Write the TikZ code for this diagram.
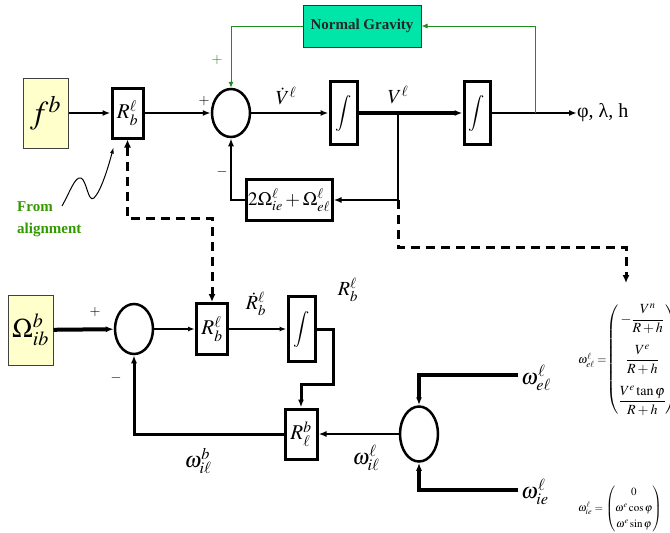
\documentclass[tikz,border=0pt]{standalone}
\usepackage{amsmath}
\usepackage{mathptmx}
\usepackage{fontspec}
\setmainfont{Liberation Serif}
\usetikzlibrary{arrows.meta,positioning,shapes.geometric,calc}
\definecolor{ink}{HTML}{000000}
\definecolor{boxyel}{HTML}{FFFFCC}
\definecolor{gravgreen}{HTML}{00E6A8}
\definecolor{wiregreen}{HTML}{1E8C1E}
\definecolor{textgreen}{HTML}{339900}
\tikzset{
  srcbox/.style={draw=ink!75,fill=boxyel,line width=1pt,inner sep=0pt,
                 minimum width=45pt,minimum height=70pt},
  blkbox/.style={draw=ink,fill=white,line width=3pt,inner sep=1pt},
  rbox/.style={blkbox,minimum width=31pt,minimum height=50pt,
               font=\fontsize{21}{24}\selectfont},
  intbox/.style={blkbox,minimum width=27pt,minimum height=63pt,
                 font=\fontsize{18}{20}\selectfont},
  sumnode/.style={draw=ink,ellipse,line width=2.5pt,minimum width=38pt,
                  minimum height=48pt,inner sep=0pt},
  gravbox/.style={draw=ink!80,fill=gravgreen,line width=1pt,minimum width=118pt,
                  minimum height=42pt,font=\fontsize{15}{17}\selectfont\bfseries,
                  text=ink!85},
  lbl/.style={inner sep=0pt,font=\fontsize{20}{22}\selectfont},
  wlbl/.style={inner sep=0pt,font=\fontsize{22}{24}\selectfont},
  sgn/.style={inner sep=0pt,font=\fontsize{14}{16}\selectfont},
  arr/.style={-{Latex[length=8pt,width=6pt]},line width=2.5pt},
  thinarr/.style={-{Latex[length=7pt,width=5pt]},line width=1.5pt},
  greenarr/.style={-{Latex[length=6pt,width=5pt]},line width=1pt,draw=wiregreen},
  dashline/.style={line width=3pt,dash pattern=on 9pt off 6pt},
  dasharr/.style={dashline,{Latex[length=8pt,width=7pt]}-{Latex[length=8pt,width=7pt]}},
  dashtip/.style={dashline,-{Latex[length=8pt,width=7pt]}}
}
\begin{document}
\begin{tikzpicture}[x=1pt,y=-1pt]
\useasboundingbox (0,0) rectangle (670,533);
% velocity loop
\node[srcbox] (fb) at (45.5,113) {\fontsize{32}{36}\selectfont$f^b$};
\node[rbox] (Rtop) at (127.5,113) {$R_b^\ell$};
\node[sumnode] (sumv) at (231,113) {};
\node[intbox] (intv) at (343.5,113) {$\displaystyle\int$};
\node[intbox,minimum width=26pt] (intp) at (477,113) {$\displaystyle\int$};
\node[anchor=west,inner sep=0pt,font=\fontsize{20}{22}\selectfont] (pos) at (577,113) {φ, λ, h};
\node[gravbox] (grav) at (362,26) {Normal Gravity};
\node[blkbox,minimum width=86pt,minimum height=41pt,inner sep=0pt,
      font=\fontsize{19}{21}\selectfont] (cor) at (289,200)
  {$2\Omega_{ie}^\ell+\Omega_{e\ell}^\ell$};
\coordinate (vsplit) at (398,113);
\coordinate (vdown) at (398,200);
\coordinate (gtap) at (535,113);
\coordinate (dashturn) at (398,247);
\coordinate (dashend) at (626,283);

\draw[arr] (fb) -- (Rtop);
\draw[arr] (Rtop) -- (sumv);
\draw[arr,line width=2pt] (sumv) -- (intv);
\draw[arr,line width=4pt] (intv) -- (intp);
\draw[arr] (intp) -- (pos);
\draw[greenarr] (gtap) |- (grav);
\draw[greenarr] (grav.west) -| (sumv.north);
\draw[arr,line width=2pt] (vsplit) -- (vdown) -- (cor);
\draw[arr] (cor.west) -| (sumv.south);
\draw[dashtip] (vdown) -- (dashturn) -| (dashend);

\node[lbl] (vdot) at (286,96) {$\dot V^\ell$};
\node[lbl] (vel) at (398,95) {$V^\ell$};
\node[sgn] (plusv) at (204,101) {$+$};
\node[sgn,text=wiregreen] (plusg) at (217,60) {$+$};
\node[sgn] (minusv) at (222,172) {$-$};

\node[align=left,anchor=north west,inner sep=0pt,text=textgreen,
      font=\fontsize{15}{22}\selectfont\bfseries] (align) at (17,201) {From\\alignment};
\coordinate (wavestart) at (62,206);
\draw[-{Latex[length=6pt,width=4pt]},line width=1pt] (wavestart)
  .. controls (70,192) and (75,176) .. (81,178)
  .. controls (87,181) and (88,203) .. (94,198)
  .. controls (101,191) and (108,168) .. ($(Rtop.south west)+(3,8)$);

% attitude loop
\node[srcbox] (Om) at (30.5,330) {\fontsize{27}{30}\selectfont$\Omega_{ib}^b$};
\node[sumnode,minimum height=50pt] (sumw) at (134,329) {};
\node[rbox,minimum height=51pt] (Rlow) at (212,329) {$R_b^\ell$};
\node[intbox,minimum height=65pt] (intr) at (301.5,329) {$\displaystyle\int$};
\node[rbox,minimum width=32pt] (Rinv) at (301,434) {$R_\ell^b$};
\node[sumnode,minimum height=55pt] (sumi) at (419,434) {};
\coordinate (rturn) at (333,384);
\coordinate (welin) at (518,375);
\coordinate (wiein) at (518,490);
\coordinate (dashknee) at (127.5,218);

\draw[arr,line width=4pt] (Om) -- (sumw);
\draw[thinarr] (sumw) -- (Rlow);
\draw[thinarr] (Rlow) -- (intr);
\draw[arr,line width=3pt] (intr.east) -| (rturn) -| (Rinv.north);
\draw[arr,line width=2pt] (sumi) -- (Rinv);
\draw[arr,line width=3pt] (Rinv.west) -| (sumw.south);
\draw[arr,line width=3.5pt] (welin) -| (sumi.north);
\draw[arr,line width=3.5pt] (wiein) -| (sumi.south);
\draw[dasharr] (Rtop.south) -- (dashknee) -| (Rlow.north);

\node[sgn] (plusw) at (95,312) {$+$};
\node[sgn] (minusw) at (116,378) {$-$};
\node[lbl] (rdot) at (256,304) {$\dot R_b^\ell$};
\node[lbl] (rbl) at (348,290) {$R_b^\ell$};
\node[wlbl] (wilb) at (198,461) {$\omega_{i\ell}^b$};
\node[wlbl] (wil) at (366,458) {$\omega_{i\ell}^\ell$};
\node[wlbl,anchor=west] (wel) at (521,378) {$\omega_{e\ell}^\ell$};
\node[wlbl,anchor=west] (wie) at (521,492) {$\omega_{ie}^\ell$};

% rate equations
\node[anchor=west,inner sep=0pt,font=\fontsize{14}{16}\selectfont] (weleq) at (578,360)
  {{\fontsize{12}{14}\selectfont$\omega_{e\ell}^\ell=$}$\setlength{\arraycolsep}{1pt}\begin{pmatrix}
    -\dfrac{V^n}{R+h}\\[17pt] \dfrac{V^e}{R+h}\\[17pt] \dfrac{V^e\tan\varphi}{R+h}\end{pmatrix}$};
\node[anchor=west,inner sep=0pt,font=\fontsize{11}{13}\selectfont] (wieeq) at (578,509)
  {$\omega_{ie}^\ell=\setlength{\arraycolsep}{2pt}\begin{pmatrix}0\\[3pt] \omega^e\cos\varphi\\[3pt] \omega^e\sin\varphi\end{pmatrix}$};
\end{tikzpicture}
\end{document}
